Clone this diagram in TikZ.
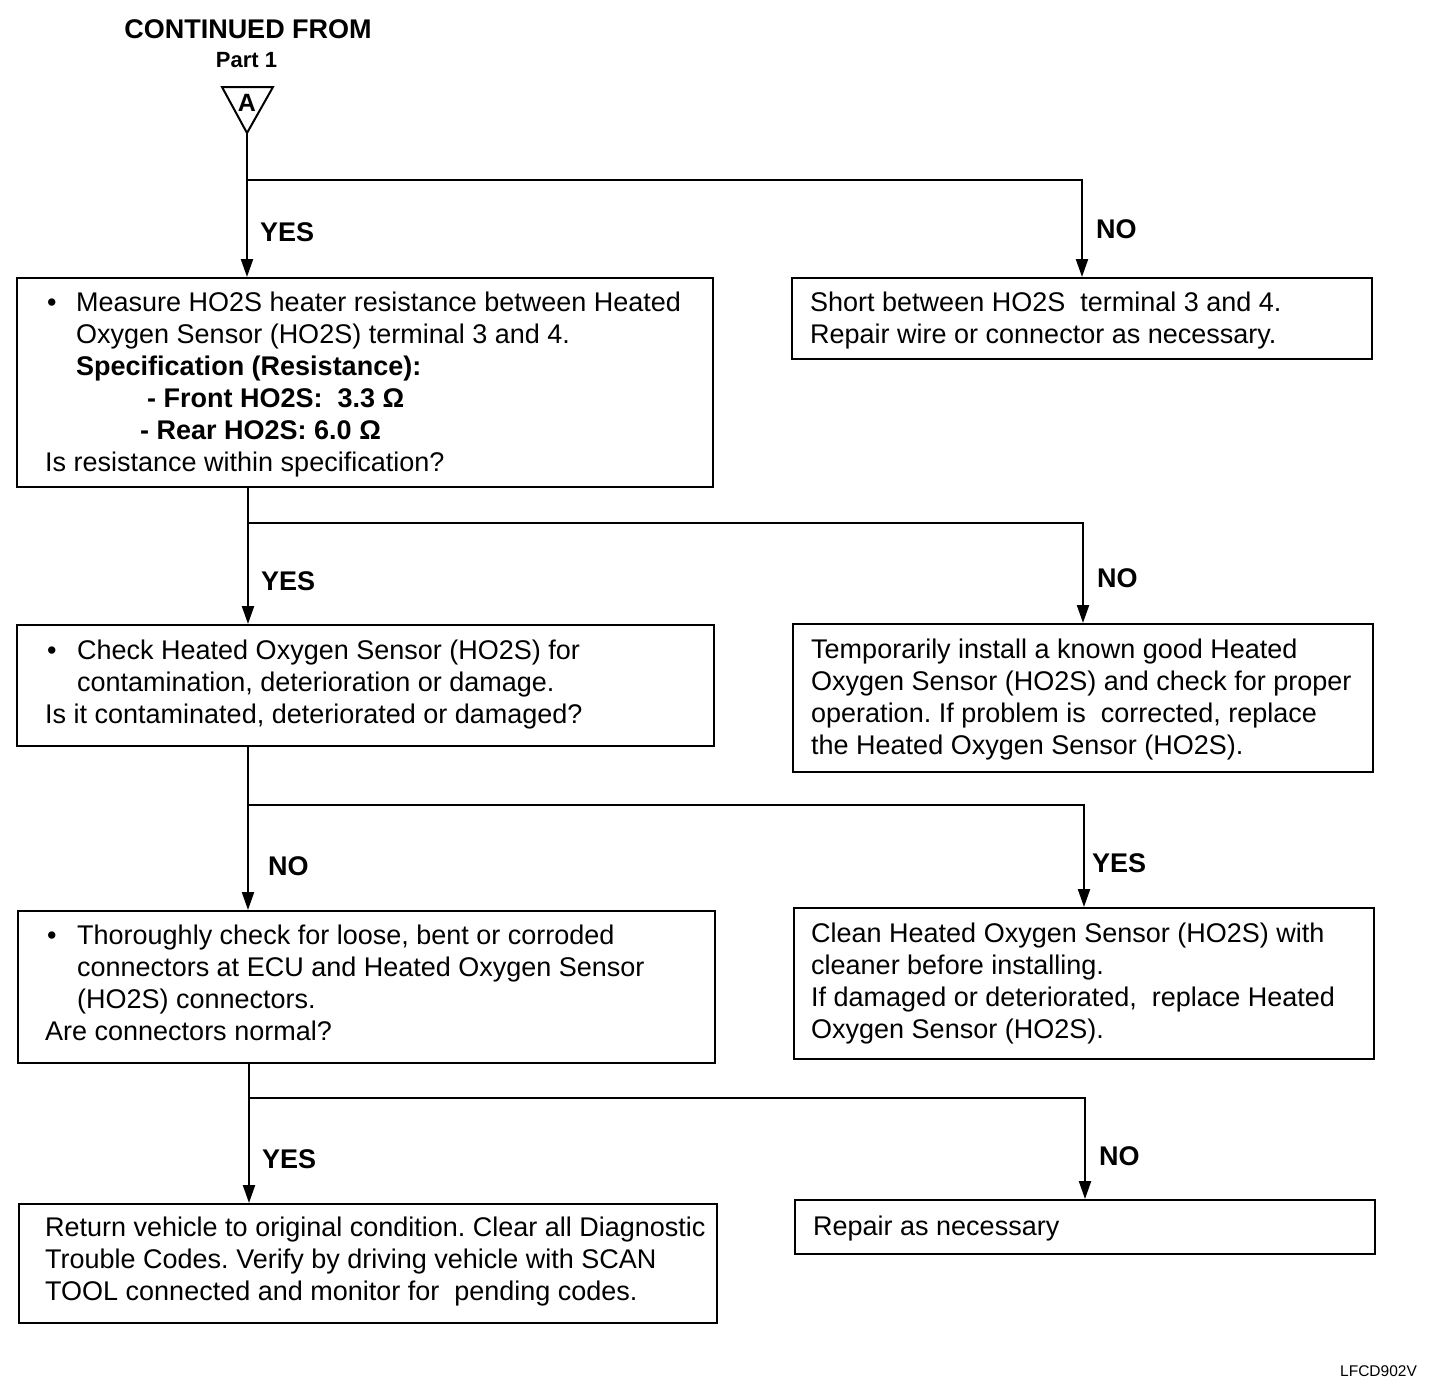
\documentclass[tikz,border=0pt]{standalone}
\usepackage{fontspec}
\setmainfont{Liberation Sans}
\usetikzlibrary{arrows.meta}
\frenchspacing
\begin{document}
\begin{tikzpicture}[x=1pt,y=-1pt,
 box/.style={draw, line width=2pt, anchor=north west, inner sep=0pt},
 txt/.style={anchor=north west, inner sep=0pt, align=left, font=\fontsize{27}{32}\selectfont},
 lbl/.style={anchor=base west, inner sep=0pt, font=\bfseries\fontsize{27}{32}\selectfont},
 conn/.style={line width=2.2pt},
 arr/.style={conn, -{Triangle[length=18pt,width=12pt]}}]
\useasboundingbox[fill=white] (0,0) rectangle (1456,1392);

% title and connector triangle
\node[anchor=base, inner sep=0pt, font=\bfseries\fontsize{27}{32}\selectfont] (title) at (248,38) {CONTINUED FROM};
\node[anchor=base, inner sep=0pt, font=\bfseries\fontsize{22}{26}\selectfont] (part) at (246.5,67) {Part 1};
\draw[line width=2pt, line join=miter] (222,87) -- (273,87) -- (247,133) -- cycle;
\node[inner sep=0pt, font=\bfseries\fontsize{25}{28}\selectfont] (A) at (247,103) {A};
\coordinate (apex) at (247,133);

% boxes
\node[box, minimum width=696pt, minimum height=209pt] (b1) at (16,277) {};
\node[box, minimum width=580pt, minimum height=81pt] (r1) at (791,277) {};
\node[box, minimum width=697pt, minimum height=121pt] (b2) at (16,624) {};
\node[box, minimum width=580pt, minimum height=148pt] (r2) at (792,623) {};
\node[box, minimum width=697pt, minimum height=152pt] (b3) at (17,910) {};
\node[box, minimum width=580pt, minimum height=151pt] (r3) at (793,907) {};
\node[box, minimum width=698pt, minimum height=119pt] (b4) at (18,1203) {};
\node[box, minimum width=580pt, minimum height=54pt] (r4) at (794,1199) {};

% texts
\node[txt] (t1) at (47,289.3) {\strut\makebox[29pt][l]{•}Measure HO2S heater resistance between Heated\\
\hspace*{29pt}Oxygen Sensor (HO2S) terminal 3 and 4.\\
\hspace*{29pt}\textbf{Specification (Resistance):}\\
\hspace*{100pt}\textbf{- Front HO2S:\ \ 3.3 Ω}\\
\hspace*{93pt}\textbf{- Rear HO2S: 6.0 Ω}\\
\hspace*{-2pt}Is resistance within specification?};
\node[txt] (s1) at (810,289.3) {\strut Short between HO2S\ \ terminal 3 and 4.\\
Repair wire or connector as necessary.};

\node[txt] (t2) at (47,637.3) {\strut\makebox[30pt][l]{•}Check Heated Oxygen Sensor (HO2S) for\\
\hspace*{30pt}contamination, deterioration or damage.\\
\hspace*{-2pt}Is it contaminated, deteriorated or damaged?};
\node[txt] (s2) at (811,636.3) {\strut Temporarily install a known good Heated\\
Oxygen Sensor (HO2S) and check for proper\\
operation. If problem is\ \ corrected, replace\\
the Heated Oxygen Sensor (HO2S).};

\node[txt] (t3) at (47,922.3) {\strut\makebox[30pt][l]{•}Thoroughly check for loose, bent or corroded\\
\hspace*{30pt}connectors at ECU and Heated Oxygen Sensor\\
\hspace*{30pt}(HO2S) connectors.\\
\hspace*{-2pt}Are connectors normal?};
\node[txt] (s3) at (811,920.3) {\strut Clean Heated Oxygen Sensor (HO2S) with\\
cleaner before installing.\\
If damaged or deteriorated,\ \ replace Heated\\
Oxygen Sensor (HO2S).};

\node[txt] (t4) at (45,1214.3) {\strut Return vehicle to original condition. Clear all Diagnostic\\
Trouble Codes. Verify by driving vehicle with SCAN\\
TOOL connected and monitor for\ \ pending codes.};
\node[txt] (s4) at (813,1213.3) {\strut Repair as necessary};

% junctions
\coordinate (j1) at (247,180);
\coordinate (j2) at (248,523);
\coordinate (j3) at (248,805);
\coordinate (j4) at (249,1098);

% connectors
\draw[conn] (apex) -- (j1);
\draw[arr] (j1) -- (j1 |- b1.north);
\draw[arr] (j1) -| (r1.north);

\draw[conn] (j2 |- b1.south) -- (j2);
\draw[arr] (j2) -- (j2 |- b2.north);
\draw[arr] (j2) -| (r2.north);

\draw[conn] (j3 |- b2.south) -- (j3);
\draw[arr] (j3) -- (j3 |- b3.north);
\draw[arr] (j3) -| (r3.north);

\draw[conn] (j4 |- b3.south) -- (j4);
\draw[arr] (j4) -- (j4 |- b4.north);
\draw[arr] (j4) -| (r4.north);

% labels
\node[lbl] (y1) at (260,241) {YES};
\node[lbl] (n1) at (1096,238) {NO};
\node[lbl] (y2) at (261,590) {YES};
\node[lbl] (n2) at (1097,587) {NO};
\node[lbl] (n3) at (268,875) {NO};
\node[lbl] (y3) at (1092,872) {YES};
\node[lbl] (y4) at (262,1168) {YES};
\node[lbl] (n4) at (1099,1165) {NO};

\node[anchor=base west, inner sep=0pt, font=\fontsize{15.5}{18}\selectfont] (code) at (1340,1376) {LFCD902V};
\end{tikzpicture}
\end{document}
